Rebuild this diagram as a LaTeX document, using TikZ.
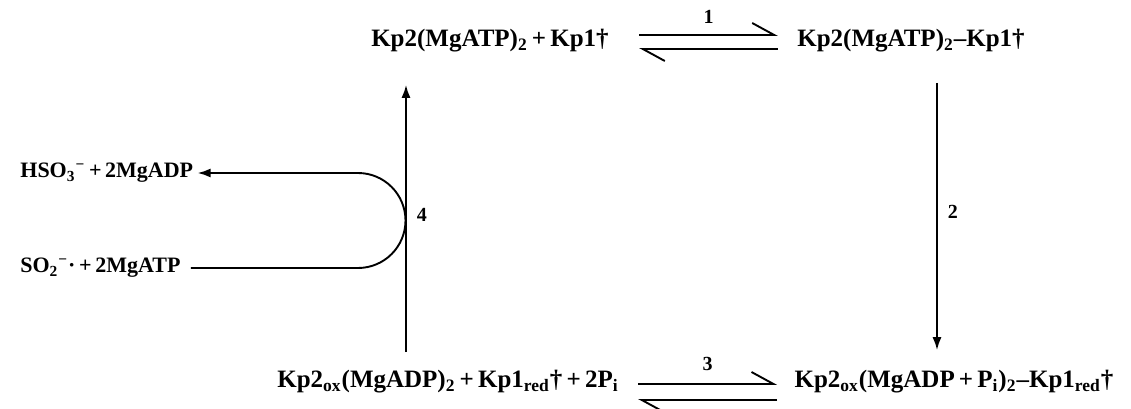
\documentclass[tikz,border=0pt]{standalone}
\usepackage{fontspec}
\setmainfont{Liberation Serif}
\usetikzlibrary{arrows.meta}

\begin{document}
\begin{tikzpicture}[x=0.5pt,y=0.5pt,
    species/.style={font=\bfseries\fontsize{12.5}{14}\selectfont,inner sep=0pt},
    minor/.style={font=\bfseries\fontsize{11}{13}\selectfont,inner sep=0pt},
    stepno/.style={font=\bfseries\fontsize{10}{12}\selectfont,inner sep=0pt},
    rxn/.style={line width=0.95pt,-{Latex[length=6.5pt,width=4.5pt]}},
    barb/.style={line width=0.95pt,-{Straight Barb[harpoon,length=11pt,width=12pt,line width=0.95pt]}}]
  \useasboundingbox (0,0) rectangle (1131,408);
  % the four complexes
  \node[species] (atp) at (490,367) {Kp2(MgATP)\textsubscript{2}\,+\,Kp1†};
  \node[species] (atpc) at (911,367) {Kp2(MgATP)\textsubscript{2}–Kp1†};
  \node[species] (adp) at (448,26) {Kp2\textsubscript{ox}(MgADP)\textsubscript{2}\,+\,Kp1\textsubscript{red}†\,+\,2P\textsubscript{i}};
  \node[species] (adpc) at (954,26) {Kp2\textsubscript{ox}(MgADP\,+\,P\textsubscript{i})\textsubscript{2}–Kp1\textsubscript{red}†};
  % dithionite side
  \node[minor,anchor=west] (hso) at (20,235) {HSO\textsubscript{3}\textsuperscript{−}\,+\,2MgADP};
  \node[minor,anchor=west] (so) at (20,140) {SO\textsubscript{2}\textsuperscript{−}·\,+\,2MgATP};
  \coordinate (x2) at (937,0);
  \coordinate (x4) at (406,0);
  % step 1
  \draw[barb] ([xshift=15pt,yshift=3pt]atp.east) -- ([xshift=-9.5pt,yshift=3pt]atpc.west)
    node[stepno,midway,above=5.5pt] {1};
  \draw[barb] ([xshift=-9.5pt,yshift=-4pt]atpc.west) -- ([xshift=15pt,yshift=-4pt]atp.east);
  % step 2
  \draw[rxn,shorten <=15pt,shorten >=10pt] (atpc.south -| x2) -- (adpc.north -| x2)
    node[stepno,midway,right=5pt] {2};
  % step 3
  \draw[barb] ([xshift=9.5pt,yshift=-1pt]adp.east) -- ([xshift=-8.5pt,yshift=-1pt]adpc.west)
    node[stepno,midway,above=6pt] {3};
  \draw[barb] ([xshift=-8.5pt,yshift=-9pt]adpc.west) -- ([xshift=9.5pt,yshift=-9pt]adp.east);
  % step 4
  \draw[rxn,shorten <=9pt,shorten >=16pt] (adp.north -| x4) -- (atp.south -| x4)
    node[stepno,pos=0.49,right=5pt] {4};
  \draw[rxn] ([xshift=5pt]so.east) -- (358,140) arc[start angle=-90,end angle=90,radius=47.5]
    -- ([xshift=2pt]hso.east);
\end{tikzpicture}
\end{document}
